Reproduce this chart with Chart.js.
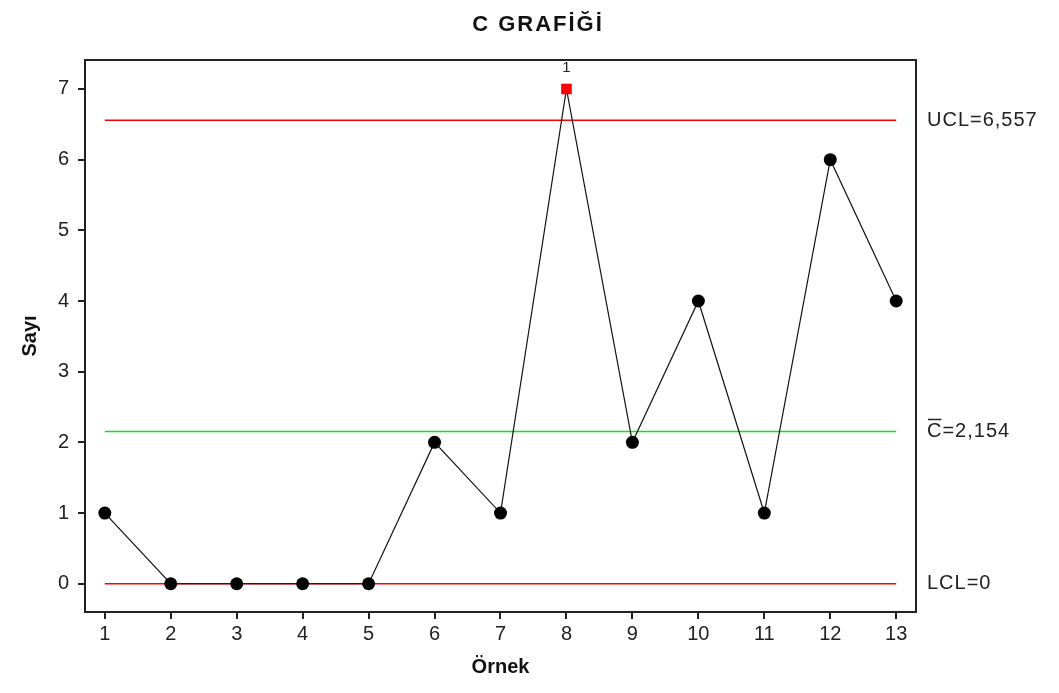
<!DOCTYPE html>
<html>
<head>
<meta charset="utf-8">
<script src="https://cdn.jsdelivr.net/npm/chart.js@4"></script>
<style>
  html, body { margin: 0; padding: 0; background: #fff; }
  #wrap { width: 1059px; height: 693px; }
</style>
</head>
<body>
<div id="wrap"><canvas id="cChart" width="1059" height="693"></canvas></div>
<script>
// Data
const samples = [1, 2, 3, 4, 5, 6, 7, 8, 9, 10, 11, 12, 13];
const counts = [1, 0, 0, 0, 0, 2, 1, 7, 2, 4, 1, 6, 4];
const outOfControl = [8];
const ucl = 6.557;
const centerLine = 2.154;
const lcl = 0;
const yTicks = [0, 1, 2, 3, 4, 5, 6, 7];

const FONT = "'Liberation Sans', Arial, sans-serif";

const flat = v => [{ x: samples[0], y: v }, { x: samples[samples.length - 1], y: v }];

// Title, frame, limit labels, "1" marker
const extras = {
    id: 'extras',
    afterDraw(chart) {
        const { ctx, chartArea: a, scales } = chart;
        const ys = scales.y, xs = scales.x;
        ctx.save();
        ctx.strokeStyle = '#222';
        ctx.lineWidth = 2;
        ctx.strokeRect(a.left, a.top, a.right - a.left, a.bottom - a.top);

        ctx.fillStyle = '#111';
        ctx.font = `bold 22px ${FONT}`;
        ctx.letterSpacing = '2px';
        ctx.textAlign = 'center';
        ctx.textBaseline = 'middle';
        ctx.fillText('C GRAFİĞİ', 538, 25);
        ctx.letterSpacing = '0px';

        ctx.font = `20px ${FONT}`;
        ctx.letterSpacing = '1px';
        ctx.fillStyle = '#222';
        ctx.textAlign = 'left';
        const lx = a.right + 11;
        ctx.fillText('UCL=6,557', lx, ys.getPixelForValue(ucl));
        ctx.fillText('LCL=0', lx, ys.getPixelForValue(lcl));
        const cy = ys.getPixelForValue(centerLine);
        ctx.fillText('C=2,154', lx, cy);
        const cw = ctx.measureText('C').width;
        ctx.letterSpacing = '0px';
        ctx.lineWidth = 1.5;
        ctx.strokeStyle = '#222';
        ctx.beginPath();
        ctx.moveTo(lx + 1, cy - 12);
        ctx.lineTo(lx + cw - 1, cy - 12);
        ctx.stroke();

        ctx.font = `15px ${FONT}`;
        ctx.textAlign = 'center';
        outOfControl.forEach(s => {
            const i = samples.indexOf(s);
            ctx.fillText('1', xs.getPixelForValue(s), ys.getPixelForValue(counts[i]) - 21);
        });
        ctx.restore();
    }
};

new Chart(document.getElementById('cChart'), {
    type: 'line',
    data: {
        datasets: [
            {
                data: flat(ucl), borderColor: '#ff0000', borderWidth: 1.5,
                pointRadius: 0, order: 3
            },
            {
                data: flat(centerLine), borderColor: '#00ee00', borderWidth: 1.5,
                pointRadius: 0, order: 3
            },
            {
                data: flat(lcl), borderColor: '#ff0000', borderWidth: 1.5,
                pointRadius: 0, order: 3
            },
            {
                data: samples.map((s, i) => ({ x: s, y: counts[i] })),
                borderColor: '#111', borderWidth: 1.2,
                pointStyle: samples.map(s => outOfControl.includes(s) ? 'rect' : 'circle'),
                pointRadius: samples.map(s => outOfControl.includes(s) ? 7.5 : 6.5),
                pointBackgroundColor: samples.map(s => outOfControl.includes(s) ? '#ff0000' : '#000'),
                pointBorderWidth: 0,
                order: 1
            }
        ]
    },
    options: {
        responsive: false,
        animation: false,
        layout: { padding: { top: 60, right: 143, left: 0, bottom: 0 } },
        plugins: { legend: { display: false }, tooltip: { enabled: false } },
        scales: {
            x: {
                type: 'linear', min: 0.7, max: 13.3,
                afterFit: s => { s.height = 81; },
                afterBuildTicks: s => { s.ticks = samples.map(v => ({ value: v })); },
                grid: { drawOnChartArea: false, tickLength: 7, color: '#222', lineWidth: 2 },
                border: { display: false },
                ticks: { color: '#222', font: { family: FONT, size: 20 }, padding: 3, maxRotation: 0 },
                title: { display: true, text: 'Örnek', color: '#111', font: { family: FONT, size: 20, weight: 'bold' }, padding: { top: 4, bottom: 14 } }
            },
            y: {
                type: 'linear', min: -0.4, max: 7.41,
                afterFit: s => { s.width = 85; },
                afterBuildTicks: s => { s.ticks = yTicks.map(v => ({ value: v })); },
                grid: { drawOnChartArea: false, tickLength: 7, color: '#222', lineWidth: 2 },
                border: { display: false },
                ticks: { color: '#222', font: { family: FONT, size: 20 }, padding: 9 },
                title: { display: true, text: 'Sayı', color: '#111', font: { family: FONT, size: 20, weight: 'bold' }, padding: { top: 18, bottom: 4 } }
            }
        }
    },
    plugins: [extras]
});
</script>
</body>
</html>
